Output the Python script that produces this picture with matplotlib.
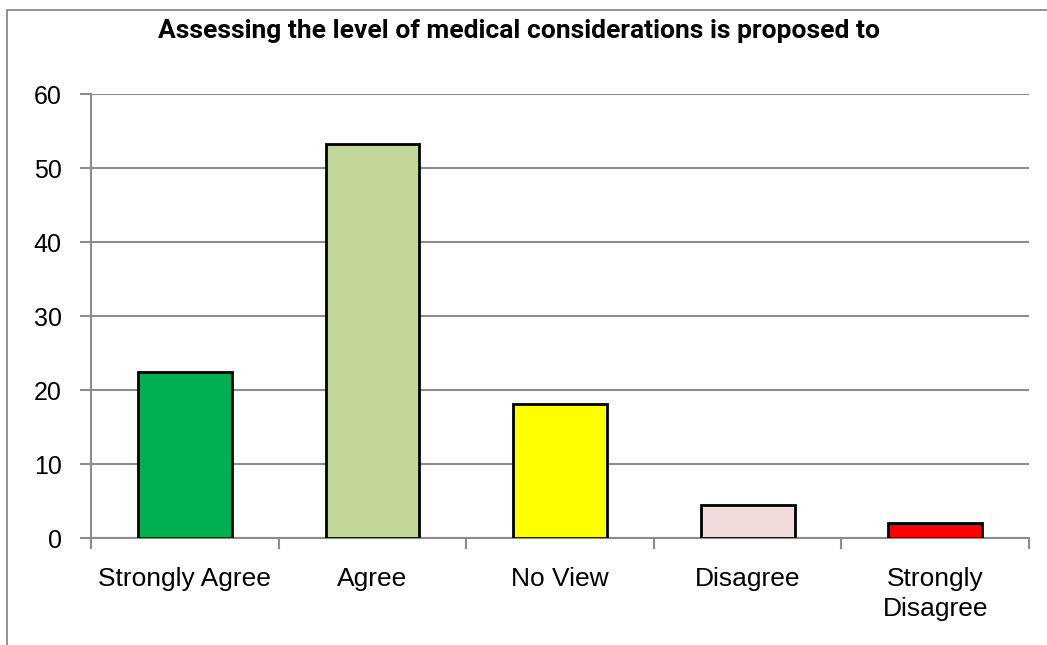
import numpy as np
import matplotlib
matplotlib.use('Agg')
import matplotlib.pyplot as plt
import matplotlib.patches as mpatches

# data
categories = ['Strongly Agree', 'Agree', 'No View', 'Disagree', 'Strongly\nDisagree']
values = [22.4, 53.3, 18.1, 4.45, 2.05]
colors = ['#00B050', '#C4D79B', '#FFFF00', '#F2DCDB', '#FF0000']
yticks = [0, 10, 20, 30, 40, 50, 60]

plt.rcParams['font.family'] = ['Liberation Sans', 'DejaVu Sans']
grid_col = '#8c8c8c'

fig = plt.figure(figsize=(10.47, 6.45), dpi=100)
ax = fig.add_axes([91/1047, 1-538/645, (1029-91)/1047, (538-94)/645])

x = np.arange(len(categories))
ax.bar(x, values, width=0.5, color=colors, edgecolor='black', linewidth=2, zorder=3)

ax.set_xlim(-0.5, len(categories)-0.5)
ax.set_ylim(0, 60)
ax.set_yticks(yticks)
ax.yaxis.grid(True, color=grid_col, linewidth=1.5, zorder=0)
ax.set_axisbelow(True)

# category ticks sit on the boundaries, labels in the middle
ax.set_xticks(np.arange(len(categories)+1)-0.5)
ax.set_xticklabels([])
ax.set_xticks(x, minor=True)
ax.set_xticklabels(categories, minor=True, fontsize=19, va='top', linespacing=1.3)
ax.tick_params(axis='x', which='minor', length=0, pad=21)
ax.tick_params(axis='x', which='major', length=8, width=1.5, color=grid_col, direction='out')
ax.tick_params(axis='y', length=8, width=1.5, color=grid_col, labelsize=18, pad=13)

for s in ['top', 'right']:
    ax.spines[s].set_visible(False)
for s in ['left', 'bottom']:
    ax.spines[s].set_color(grid_col)
    ax.spines[s].set_linewidth(1.5)

fig.text(519/1047, 1-31/645, 'Assessing the level of medical considerations is proposed to',
         ha='center', va='center', fontsize=19, fontweight='bold', family=['Roboto', 'DejaVu Sans'])

# outer chart frame, cut off at right and bottom like the reference
fig.patches.append(mpatches.Rectangle((7/1047, -0.1), 1.2, 1-10/645+0.1, transform=fig.transFigure,
                                      fill=False, edgecolor='#7f7f7f', linewidth=1.2))

fig.savefig('out.png', dpi=100)
